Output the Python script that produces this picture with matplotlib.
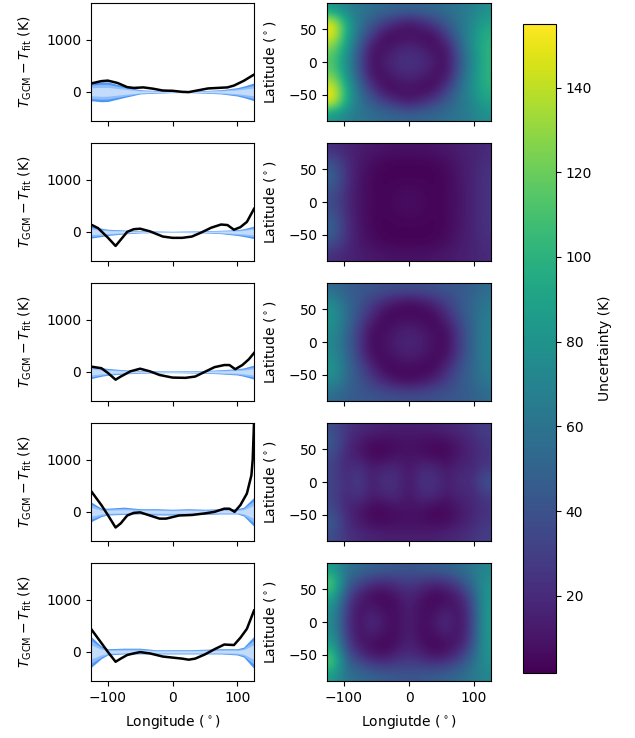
import numpy as np
import matplotlib
matplotlib.use('Agg')
import matplotlib.pyplot as plt

# residual curves, one (lon, value) pair of lists per row
lon1 = [-126, -110, -100, -85, -70, -60, -45, -30, -15, 0, 15, 25, 40, 55, 70, 85, 95, 110, 126]
res1 = [160, 205, 215, 170, 90, 75, 85, 60, 25, 20, 0, -5, 30, 65, 75, 85, 120, 210, 330]
lon2 = [-126, -115, -100, -88, -80, -70, -60, -50, -35, -15, 0, 15, 30, 45, 60, 75, 85, 95, 105, 115, 126]
res2 = [140, 70, -110, -270, -150, 0, 50, 60, 10, -90, -115, -115, -90, -10, 80, 140, 130, 40, 90, 190, 440]
lon3 = [-126, -110, -100, -88, -80, -65, -50, -35, -20, 0, 20, 35, 50, 65, 80, 88, 97, 108, 118, 126]
res3 = [100, 70, -20, -150, -90, 10, 60, 10, -60, -110, -115, -90, 0, 90, 130, 130, 50, 130, 240, 360]
lon4 = [-126, -110, -100, -88, -80, -70, -60, -50, -35, -20, -10, 10, 30, 50, 65, 80, 88, 96, 105, 115, 122, 124, 126]
res4 = [400, 130, -60, -300, -220, -70, -20, -10, -70, -130, -130, -70, -60, -30, 0, 60, 60, 0, 130, 350, 700, 1000, 1700]
lon5 = [-126, -110, -100, -88, -80, -70, -60, -50, -35, -15, 0, 15, 25, 35, 50, 65, 80, 95, 105, 115, 126]
res5 = [440, 170, 0, -190, -130, -60, -30, -5, -30, -90, -110, -130, -150, -130, -50, 50, 140, 130, 270, 440, 790]

# uncertainty envelopes
band_lon = [-126, -110, -100, -75, -50, -25, 0, 25, 50, 75, 100, 110, 126]
hi1 = [170, 190, 190, 110, 40, 25, 15, 15, 25, 40, 80, 110, 170]
lo1 = [-170, -190, -185, -110, -40, -25, -15, -15, -25, -40, -80, -110, -170]
hi2 = [110, 70, 50, 35, 20, 15, 10, 15, 20, 30, 40, 60, 110]
lo2 = [-120, -90, -70, -40, -20, -15, -10, -15, -20, -35, -70, -90, -130]
hi3 = [120, 80, 65, 40, 25, 20, 15, 20, 25, 40, 60, 75, 130]
lo3 = [-130, -85, -65, -40, -25, -20, -15, -20, -25, -40, -60, -85, -140]
hi4 = [190, 70, 70, 90, 60, 60, 50, 60, 50, 60, 60, 90, 280]
lo4 = [-190, -90, -60, -50, -40, -60, -60, -50, -50, -40, -40, -80, -280]
hi5 = [295, 110, 60, 70, 70, 40, 40, 40, 50, 60, 60, 90, 300]
lo5 = [-300, -130, -60, -40, -40, -40, -40, -40, -40, -40, -60, -100, -320]

# uncertainty maps, rows run from north to south
map1 = [[82, 70, 62, 58, 54, 52, 50, 52, 54, 58, 62, 68, 78],
        [152, 98, 62, 45, 30, 18, 10, 18, 30, 45, 60, 72, 90],
        [150, 98, 55, 28, 6, 5, 8, 5, 6, 28, 55, 78, 98],
        [122, 85, 45, 9, 8, 16, 20, 16, 8, 9, 45, 75, 100],
        [112, 78, 40, 7, 14, 22, 25, 22, 14, 7, 40, 72, 100],
        [122, 85, 45, 9, 8, 16, 20, 16, 8, 9, 45, 75, 100],
        [150, 98, 55, 28, 6, 5, 8, 5, 6, 28, 55, 78, 98],
        [152, 98, 62, 45, 30, 18, 10, 18, 30, 45, 60, 72, 90],
        [82, 70, 62, 58, 54, 52, 50, 52, 54, 58, 62, 68, 78]]
map2 = [[22, 17, 14, 12, 10, 9, 9, 9, 10, 12, 14, 16, 20],
        [40, 22, 12, 7, 4, 3, 3, 3, 4, 7, 12, 16, 22],
        [50, 24, 11, 5, 3, 3, 3, 3, 3, 5, 11, 16, 24],
        [42, 22, 10, 5, 3, 5, 6, 5, 3, 5, 10, 16, 24],
        [36, 20, 10, 5, 4, 6, 7, 6, 4, 5, 10, 16, 24],
        [42, 22, 10, 5, 3, 5, 6, 5, 3, 5, 10, 16, 24],
        [50, 24, 11, 5, 3, 3, 3, 3, 3, 5, 11, 16, 24],
        [40, 22, 12, 7, 4, 3, 3, 3, 4, 7, 12, 16, 22],
        [22, 17, 14, 12, 10, 9, 9, 9, 10, 12, 14, 16, 20]]
map3 = [[55, 48, 44, 42, 40, 38, 38, 38, 40, 42, 44, 48, 55],
        [75, 55, 42, 30, 18, 9, 5, 9, 18, 30, 42, 52, 62],
        [82, 58, 38, 20, 4, 4, 6, 4, 4, 20, 38, 52, 65],
        [76, 55, 30, 7, 6, 12, 15, 12, 6, 7, 30, 50, 68],
        [72, 52, 28, 5, 9, 15, 18, 15, 9, 5, 28, 50, 68],
        [76, 55, 30, 7, 6, 12, 15, 12, 6, 7, 30, 50, 68],
        [82, 58, 38, 20, 4, 4, 6, 4, 4, 20, 38, 52, 65],
        [75, 55, 42, 30, 18, 9, 5, 9, 18, 30, 42, 52, 62],
        [55, 48, 44, 42, 40, 38, 38, 38, 40, 42, 44, 48, 55]]
map4 = [[38, 25, 20, 17, 15, 14, 14, 14, 15, 17, 20, 24, 30],
        [45, 22, 12, 6, 5, 7, 8, 7, 5, 6, 12, 18, 26],
        [36, 18, 13, 5, 4, 9, 9, 9, 4, 5, 12, 17, 24],
        [32, 18, 26, 13, 18, 20, 10, 20, 20, 11, 18, 18, 28],
        [34, 20, 31, 13, 24, 22, 10, 24, 24, 13, 22, 20, 42],
        [32, 18, 26, 13, 18, 20, 10, 20, 20, 11, 18, 18, 28],
        [36, 18, 13, 5, 4, 9, 9, 9, 4, 5, 12, 17, 24],
        [45, 22, 12, 6, 5, 7, 8, 7, 5, 6, 12, 18, 26],
        [38, 25, 20, 17, 15, 14, 14, 14, 15, 17, 20, 24, 30]]
map5 = [[85, 60, 55, 50, 46, 44, 42, 44, 46, 50, 55, 62, 72],
        [118, 52, 35, 22, 18, 24, 28, 24, 18, 22, 35, 55, 78],
        [95, 38, 15, 6, 3, 10, 18, 10, 3, 6, 15, 40, 82],
        [78, 30, 8, 14, 7, 6, 16, 6, 7, 14, 8, 32, 82],
        [75, 28, 7, 22, 12, 6, 16, 6, 12, 22, 7, 30, 85],
        [78, 30, 8, 14, 7, 6, 16, 6, 7, 14, 8, 32, 82],
        [95, 38, 15, 6, 3, 10, 18, 10, 3, 6, 15, 40, 82],
        [118, 52, 35, 22, 18, 24, 28, 24, 18, 22, 35, 55, 78],
        [85, 60, 55, 50, 46, 44, 42, 44, 46, 50, 55, 62, 72]]

curves = [(lon1, res1), (lon2, res2), (lon3, res3), (lon4, res4), (lon5, res5)]
bands = [(hi1, lo1), (hi2, lo2), (hi3, lo3), (hi4, lo4), (hi5, lo5)]
maps = [map1, map2, map3, map4, map5]

W, H = 635, 738
fig = plt.figure(figsize=(W / 100, H / 100), dpi=100)

tops = [3, 143, 283, 423, 563]
row_h = 118
for i in range(5):
    y0 = 1 - (tops[i] + row_h) / H
    ax = fig.add_axes([91 / W, y0, 163 / W, row_h / H])
    hi = np.array(bands[i][0])
    lo = np.array(bands[i][1])
    # darker edge strips, pale middle, like the stacked fills in the original
    ax.fill_between(band_lon, lo, hi, color='#4c97f6', lw=0)
    ax.fill_between(band_lon, lo * 0.75, hi * 0.75, color='#8fbdf9', lw=0)
    ax.fill_between(band_lon, lo * 0.45, hi * 0.45, color='#c4dcfc', lw=0)
    ax.plot(curves[i][0], curves[i][1], color='k', lw=1.8)
    ax.set_xlim(-126, 126)
    ax.set_ylim(-558, 1700)
    ax.set_xticks([-100, 0, 100])
    ax.set_yticks([0, 1000])
    ax.set_ylabel(r'$T_{\rm GCM} - T_{\rm fit}$ (K)', labelpad=9)
    if i < 4:
        ax.set_xticklabels([])
    else:
        ax.set_xlabel(r'Longitude ($^\circ$)', labelpad=6)

    ax2 = fig.add_axes([327 / W, y0, 164 / W, row_h / H])
    im = ax2.imshow(maps[i], extent=[-126, 126, -90, 90], aspect='auto',
                    interpolation='bicubic', cmap='viridis', vmin=1.8, vmax=155)
    ax2.set_xticks([-100, 0, 100])
    ax2.set_yticks([-50, 0, 50])
    ax2.set_ylabel(r'Latitude ($^\circ$)', labelpad=7)
    if i < 4:
        ax2.set_xticklabels([])
    else:
        ax2.set_xlabel(r'Longiutde ($^\circ$)', labelpad=6)

cax = fig.add_axes([523 / W, 1 - 673 / H, 33 / W, 649 / H])
cb = fig.colorbar(im, cax=cax)
cb.set_ticks([20, 40, 60, 80, 100, 120, 140])
cb.set_label('Uncertainty (K)')

plt.savefig('out.png', dpi=100)
